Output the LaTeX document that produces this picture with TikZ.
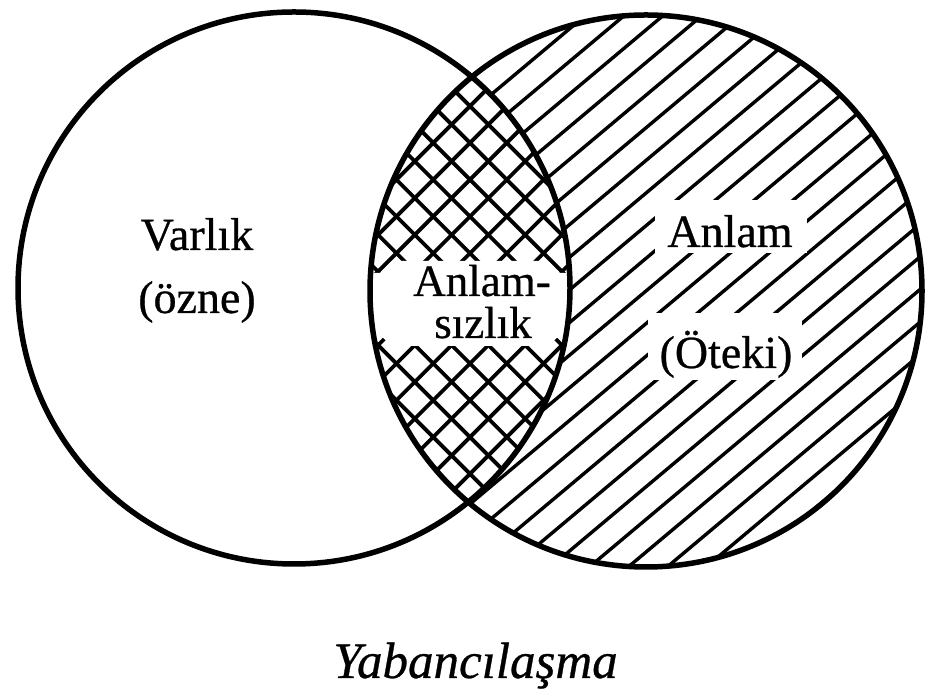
\documentclass[tikz,border=0pt]{standalone}
\usepackage{fontspec}
\setmainfont{Liberation Serif}
\newfontfamily\heavyserif{Liberation Serif}[FakeBold=0.6]
\begin{document}
\begin{tikzpicture}[x=1pt,y=1pt,
  rim/.style={line width=5.5pt},
  hatchline/.style={line width=3.4pt},
  crossline/.style={line width=3.8pt},
  lbl/.style={font=\heavyserif\fontsize{46}{50}\selectfont, inner sep=0pt, anchor=base},
  lenslbl/.style={font=\heavyserif\fontsize{45}{48}\selectfont, inner sep=0pt, anchor=base},
  ttl/.style={font=\heavyserif\fontsize{51}{56}\selectfont\itshape, inner sep=0pt, anchor=base}]
\useasboundingbox (0,0) rectangle (929,695);
\fill[white] (0,0) rectangle (929,695);
% single hatching in right circle
\begin{scope}
  \clip (646,404) circle (276);
  \begin{scope}[shift={(646,404)}, rotate=40]
    \foreach \k in {-12,...,12} \draw[hatchline] (-320,\k*25) -- (320,\k*25);
  \end{scope}
\end{scope}
% lens: white then crosshatch
\begin{scope}
  \clip (294,407) circle (276);
  \clip (646,404) circle (276);
  \fill[white] (300,0) rectangle (650,695);
  \begin{scope}[shift={(470,405)}, rotate=45]
    \foreach \k in {-10,...,10} \draw[crossline] (-320,\k*26) -- (320,\k*26);
  \end{scope}
  \begin{scope}[shift={(470,405)}, rotate=-45]
    \foreach \k in {-10,...,10} \draw[crossline] (-320,\k*26) -- (320,\k*26);
  \end{scope}
  \fill[white] (300,360) -- (380,360) -- (392,349) -- (548,349) -- (560,360) -- (650,360)
     -- (650,422) -- (560,422) -- (548,434) -- (392,434) -- (380,422) -- (300,422) -- cycle;
\end{scope}
% white boxes behind texts in right part
\fill[white] (655,442) rectangle (807,495);
\fill[white] (648,315) rectangle (802,382);
% circles
\draw[rim] (294,407) circle (276);
\draw[rim] (646,404) circle (276);
% labels
\node[lbl] (varlik) at (197,445) {Varlık};
\node[lbl] (ozne) at (197,382) {(özne)};
\node[lenslbl] (anlamsiz1) at (482,399) {Anlam-};
\node[lenslbl] (anlamsiz2) at (483,357) {sızlık};
\node[lbl] (anlam) at (730,448) {Anlam};
\node[lbl] (oteki) at (726,327) {(Öteki)};
\node[ttl] (title) at (475.5,17) {Yabancılaşma};
\end{tikzpicture}
\end{document}
